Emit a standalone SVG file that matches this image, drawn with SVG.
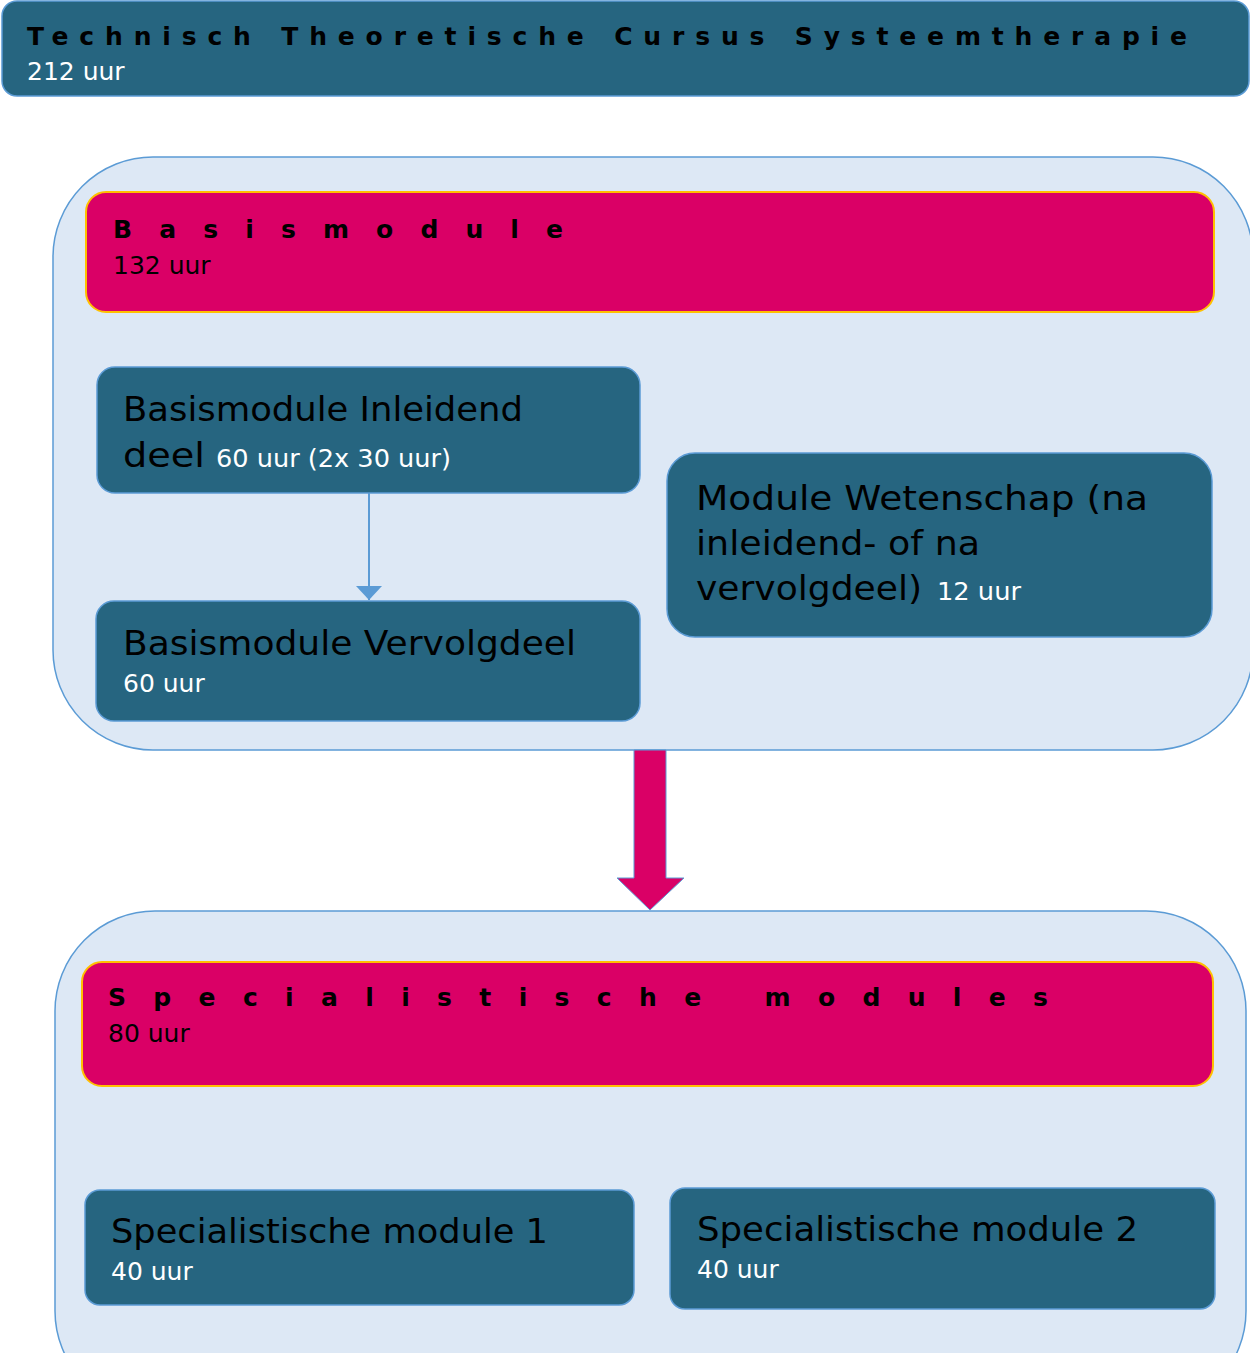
<svg xmlns="http://www.w3.org/2000/svg" width="1250" height="1353" viewBox="0 0 1250 1353">
<style>
.dark{fill:#266580;stroke:#5b9bd5;stroke-width:1.5}
.cont{fill:#dde8f5;stroke:#5b9bd5;stroke-width:1.5}
.mag{fill:#da0066;stroke:#ffc000;stroke-width:2}
text{font-family:"DejaVu Sans","Liberation Sans",sans-serif}
.head{font-weight:bold;font-size:25px;fill:#000}
.big{font-size:34px;fill:#000}
.w{font-size:25px;fill:#fff}
.k{font-size:25px;fill:#000}
</style>
<defs>
<marker id="ah" markerWidth="26" markerHeight="14" refX="13" refY="14" orient="0" markerUnits="userSpaceOnUse" viewBox="0 0 26 14">
<path d="M0,0 L26,0 L13,14 Z" fill="#5b9bd5"/>
</marker>
</defs>
<g id="title">
<rect class="dark" x="2" y="1" width="1247" height="95" rx="15"/>
<text class="head" x="27" y="45" textLength="1160" lengthAdjust="spacing">Technisch Theoretische Cursus Systeemtherapie</text>
<text class="w" x="27" y="80">212 uur</text>
</g>
<g id="basis-container">
<rect class="cont" x="53" y="157" width="1200" height="593" rx="100"/>
</g>
<g id="basismodule">
<rect class="mag" x="86" y="192" width="1128" height="120" rx="20"/>
<text class="head" x="113" y="238" textLength="450" lengthAdjust="spacing">Basismodule</text>
<text class="k" x="113" y="274">132 uur</text>
</g>
<g id="inleidend">
<rect class="dark" x="97" y="367" width="543" height="126" rx="18"/>
<text class="big" x="123" y="421" textLength="400" lengthAdjust="spacingAndGlyphs">Basismodule Inleidend</text>
<text x="123" y="467"><tspan class="big" textLength="82" lengthAdjust="spacingAndGlyphs">deel</tspan><tspan class="w" x="216" textLength="235" lengthAdjust="spacingAndGlyphs">60 uur (2x 30 uur)</tspan></text>
</g>
<g id="vervolgdeel">
<rect class="dark" x="96" y="601" width="544" height="120" rx="18"/>
<text class="big" x="123" y="655" textLength="453" lengthAdjust="spacingAndGlyphs">Basismodule Vervolgdeel</text>
<text class="w" x="123" y="692">60 uur</text>
</g>
<g id="wetenschap">
<rect class="dark" x="667" y="453" width="545" height="184" rx="28"/>
<text class="big" x="696" y="510" textLength="452" lengthAdjust="spacingAndGlyphs">Module Wetenschap (na</text>
<text class="big" x="696" y="555" textLength="284" lengthAdjust="spacingAndGlyphs">inleidend- of na</text>
<text x="696" y="600"><tspan class="big" textLength="226" lengthAdjust="spacingAndGlyphs">vervolgdeel)</tspan><tspan class="w" x="937" textLength="84" lengthAdjust="spacingAndGlyphs">12 uur</tspan></text>
</g>
<g id="spec-container">
<rect class="cont" x="55" y="911" width="1191" height="500" rx="100"/>
</g>
<g id="specmodules">
<rect class="mag" x="82" y="962" width="1131" height="124" rx="20"/>
<text class="head" x="108" y="1006" textLength="940" lengthAdjust="spacing">Specialistische modules</text>
<text class="k" x="108" y="1042">80 uur</text>
</g>
<g id="spec1">
<rect class="dark" x="85" y="1190" width="549" height="115" rx="15"/>
<text class="big" x="111" y="1243" textLength="437" lengthAdjust="spacingAndGlyphs">Specialistische module 1</text>
<text class="w" x="111" y="1280">40 uur</text>
</g>
<g id="spec2">
<rect class="dark" x="670" y="1188" width="545" height="121" rx="15"/>
<text class="big" x="697" y="1241" textLength="441" lengthAdjust="spacingAndGlyphs">Specialistische module 2</text>
<text class="w" x="697" y="1278">40 uur</text>
</g>
<g id="connectors">
<line x1="369" y1="493" x2="369" y2="600" stroke="#5b9bd5" stroke-width="2" marker-end="url(#ah)"/>
<path d="M634,750 L666,750 L666,878 L684,878 L650,910 L617,878 L634,878 Z" fill="#da0066" stroke="#5b9bd5" stroke-width="1"/>
</g>
</svg>
